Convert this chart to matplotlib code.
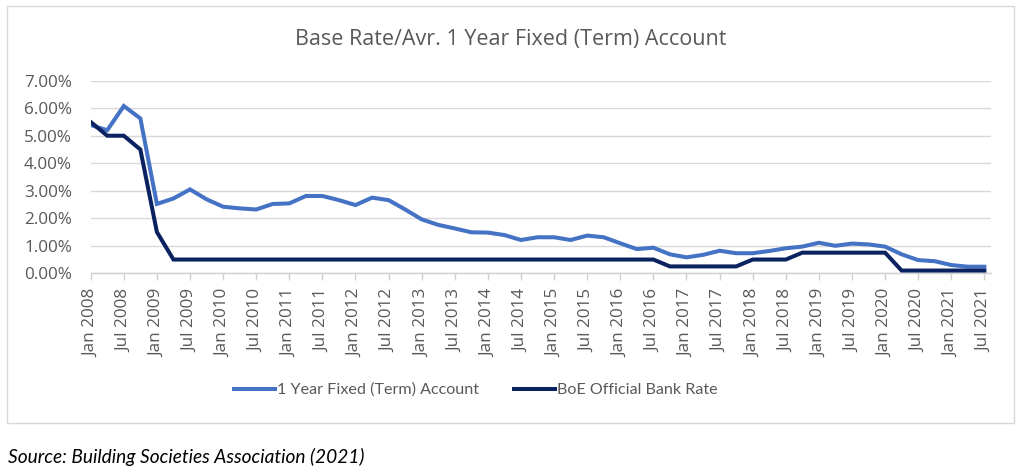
import matplotlib
matplotlib.use("Agg")
import matplotlib.pyplot as plt
from matplotlib.patches import Rectangle
from matplotlib.ticker import FuncFormatter

plt.rcParams['font.family'] = ['Open Sans', 'DejaVu Sans']

# Quarterly observations, Jan 2008 .. Jul 2021
quarters = ["Jan 2008", "Apr 2008", "Jul 2008", "Oct 2008",
            "Jan 2009", "Apr 2009", "Jul 2009", "Oct 2009",
            "Jan 2010", "Apr 2010", "Jul 2010", "Oct 2010",
            "Jan 2011", "Apr 2011", "Jul 2011", "Oct 2011",
            "Jan 2012", "Apr 2012", "Jul 2012", "Oct 2012",
            "Jan 2013", "Apr 2013", "Jul 2013", "Oct 2013",
            "Jan 2014", "Apr 2014", "Jul 2014", "Oct 2014",
            "Jan 2015", "Apr 2015", "Jul 2015", "Oct 2015",
            "Jan 2016", "Apr 2016", "Jul 2016", "Oct 2016",
            "Jan 2017", "Apr 2017", "Jul 2017", "Oct 2017",
            "Jan 2018", "Apr 2018", "Jul 2018", "Oct 2018",
            "Jan 2019", "Apr 2019", "Jul 2019", "Oct 2019",
            "Jan 2020", "Apr 2020", "Jul 2020", "Oct 2020",
            "Jan 2021", "Apr 2021", "Jul 2021"]

fixed_term = [5.39, 5.20, 6.08, 5.63, 2.52, 2.72, 3.05, 2.69, 2.42, 2.36,
              2.32, 2.52, 2.54, 2.81, 2.81, 2.66, 2.48, 2.75, 2.66, 2.32,
              1.96, 1.76, 1.63, 1.49, 1.48, 1.39, 1.21, 1.31, 1.31, 1.21,
              1.37, 1.31, 1.09, 0.88, 0.93, 0.69, 0.58, 0.67, 0.82, 0.73,
              0.73, 0.81, 0.91, 0.97, 1.11, 1.00, 1.08, 1.05, 0.97, 0.69,
              0.48, 0.44, 0.30, 0.24, 0.24]

bank_rate = [5.50, 5.00, 5.00, 4.50, 1.50, 0.50, 0.50, 0.50, 0.50, 0.50,
             0.50, 0.50, 0.50, 0.50, 0.50, 0.50, 0.50, 0.50, 0.50, 0.50,
             0.50, 0.50, 0.50, 0.50, 0.50, 0.50, 0.50, 0.50, 0.50, 0.50,
             0.50, 0.50, 0.50, 0.50, 0.50, 0.25, 0.25, 0.25, 0.25, 0.25,
             0.50, 0.50, 0.50, 0.75, 0.75, 0.75, 0.75, 0.75, 0.75, 0.10,
             0.10, 0.10, 0.10, 0.10, 0.10]

tick_labels = ["Jan 2008", "Jul 2008", "Jan 2009", "Jul 2009", "Jan 2010",
               "Jul 2010", "Jan 2011", "Jul 2011", "Jan 2012", "Jul 2012",
               "Jan 2013", "Jul 2013", "Jan 2014", "Jul 2014", "Jan 2015",
               "Jul 2015", "Jan 2016", "Jul 2016", "Jan 2017", "Jul 2017",
               "Jan 2018", "Jul 2018", "Jan 2019", "Jul 2019", "Jan 2020",
               "Jul 2020", "Jan 2021", "Jul 2021"]
y_ticks = [0, 1, 2, 3, 4, 5, 6, 7]

title = "Base Rate/Avr. 1 Year Fixed (Term) Account"
series_names = ["1 Year Fixed (Term) Account", "BoE Official Bank Rate"]
source = "Source: Building Societies Association (2021)"

BLUE = "#4472C4"
NAVY = "#0A2260"
GRID = "#D9D9D9"
TEXT = "#595959"
NARROW = ['Lato', 'DejaVu Sans']

W, H = 1024, 475
fig = plt.figure(figsize=(W / 100, H / 100), dpi=100)

# chart border
fig.patches.append(Rectangle((7 / W, 1 - 423 / H), (1014 - 7) / W, (423 - 6) / H,
                             transform=fig.transFigure, fill=False,
                             edgecolor=GRID, linewidth=1.0))

ax = fig.add_axes([90.7 / W, 1 - 273.3 / H, (991 - 90.7) / W, (273.3 - 80.7) / H])

x = list(range(len(quarters)))
l1, = ax.plot(x, fixed_term, color=BLUE, linewidth=2.9, solid_joinstyle='miter',
              label=series_names[0], zorder=3)
l2, = ax.plot(x, bank_rate, color=NAVY, linewidth=2.9, solid_joinstyle='miter',
              label=series_names[1], zorder=4)

ax.set_xlim(0, 54.4)
ax.set_ylim(0, 7)
ax.set_yticks(y_ticks)
ax.yaxis.set_major_formatter(FuncFormatter(lambda v, p: f"{v:.2f}%"))
ax.tick_params(axis='y', length=0, pad=13.5, labelsize=12.3, labelcolor=TEXT)
ax.grid(axis='y', color=GRID, linewidth=1.0)
ax.set_axisbelow(True)

tick_pos = [quarters.index(t) for t in tick_labels]
ax.set_xticks(tick_pos)
ax.set_xticklabels(tick_labels, rotation=90, fontsize=12.3, color=TEXT)
ax.tick_params(axis='x', length=5, width=1, color="#D0D0D0", pad=6)

for s in ['top', 'right', 'left']:
    ax.spines[s].set_visible(False)
ax.spines['bottom'].set_color("#D0D0D0")
ax.spines['bottom'].set_linewidth(1.0)

fig.text(511 / W, 1 - 40 / H, title, ha='center', va='center', fontsize=15.5, color=TEXT)

fig.legend(handles=[l1, l2], loc='center', bbox_to_anchor=(476 / W, 1 - 390 / H),
           ncol=2, frameon=False, prop={'family': NARROW, 'size': 11.6}, labelcolor=TEXT,
           handlelength=2.5, handletextpad=0.15, columnspacing=2.2)

fig.text(8 / W, 1 - 457 / H, source, ha='left', va='center', fontsize=13.8,
         style='italic', family=NARROW, color="#000000")

fig.savefig("out.png", dpi=100)
